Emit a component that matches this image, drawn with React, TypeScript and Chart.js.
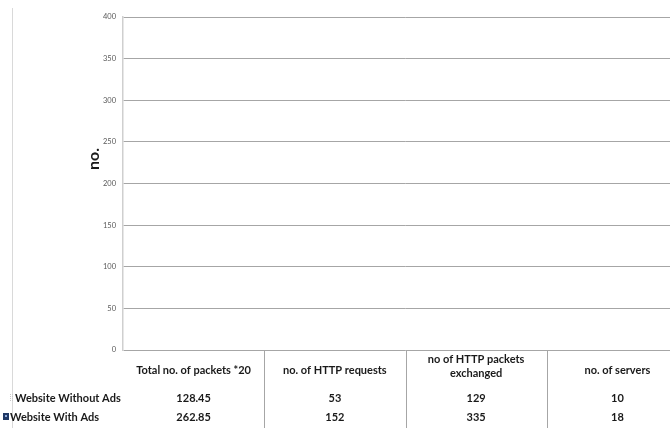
import React, { useEffect, useRef } from "react";
import { Chart, registerables } from "chart.js";

Chart.register(...registerables);

const categories: string[][] = [
  ["Total no. of packets *20"],
  ["no. of HTTP requests"],
  ["no of HTTP packets", "exchanged"],
  ["no. of servers"],
];
const seriesNames = ["Website Without Ads", "Website With Ads"];
const withoutAds = [128.45, 53, 129, 10];
const withAds = [262.85, 152, 335, 18];
const valueLabels = [
  ["128.45", "53", "129", "10"],
  ["262.85", "152", "335", "18"],
];
const yMin = 0;
const yMax = 400;
const yStep = 50;
const yTitle = "no.";

const FONT = "Lato, 'Open Sans', 'Liberation Sans', sans-serif";

const tablePlugin = {
  id: "dataTable",
  afterDraw(chart: any) {
    const ctx = chart.ctx;
    const x = chart.scales.x;
    const area = chart.chartArea;
    const n = categories.length;
    const colW = (area.right - area.left) / n;
    ctx.save();
    // outer chart border on the left
    ctx.strokeStyle = "#d9d9d9";
    ctx.lineWidth = 1;
    ctx.beginPath();
    ctx.moveTo(12.5, 8);
    ctx.lineTo(12.5, 428);
    ctx.stroke();

    // axis title
    ctx.save();
    ctx.translate(94, 159);
    ctx.rotate(-Math.PI / 2);
    ctx.fillStyle = "#1a1a1a";
    ctx.font = "bold 16px " + FONT;
    ctx.textAlign = "center";
    ctx.textBaseline = "middle";
    ctx.fillText(yTitle, 0, 0);
    ctx.restore();

    // vertical table lines
    ctx.strokeStyle = "#a6a6a6";
    ctx.lineWidth = 1;
    for (let i = 1; i < n; i++) {
      const bx = Math.round(x.getPixelForValue(i) - colW / 2) + 0.5;
      ctx.beginPath();
      ctx.moveTo(bx, area.bottom);
      ctx.lineTo(bx, 428);
      ctx.stroke();
    }

    ctx.fillStyle = "#1a1a1a";
    ctx.font = "bold 11px " + FONT;
    ctx.textAlign = "center";
    ctx.textBaseline = "middle";
    categories.forEach((lines, i) => {
      const cx = x.getPixelForValue(i);
      if (lines.length === 1) {
        ctx.fillText(lines[0], cx, 370);
      } else {
        ctx.fillText(lines[0], cx, 359);
        ctx.fillText(lines[1], cx, 373);
      }
      ctx.fillText(valueLabels[0][i], cx, 398);
      ctx.fillText(valueLabels[1][i], cx, 417);
    });

    // series labels
    ctx.textAlign = "left";
    ctx.fillText(seriesNames[0], 15, 398);
    ctx.fillText(seriesNames[1], 10, 417);

    // legend markers
    ctx.fillStyle = "#c8c8c8";
    for (let r = 0; r < 4; r++) {
      for (let c = 0; c < 2; c++) {
        ctx.fillRect(10 + c * 2, 394 + r * 2, 1, 1);
      }
    }
    ctx.fillStyle = "#1f3864";
    ctx.fillRect(3, 413, 6, 7);
    ctx.fillStyle = "#8eaadb";
    ctx.fillRect(5, 415, 2, 2);
    ctx.restore();
  },
};

export default function App() {
  const ref = useRef<HTMLCanvasElement | null>(null);
  useEffect(() => {
    document.body.style.margin = "0";
    const canvas = ref.current!;
    const chart = new Chart(canvas, {
      type: "bar",
      data: {
        labels: categories.map((c) => c.join(" ")),
        datasets: [
          { label: seriesNames[0], data: withoutAds, backgroundColor: "rgba(0,0,0,0)", borderWidth: 0 },
          { label: seriesNames[1], data: withAds, backgroundColor: "rgba(0,0,0,0)", borderWidth: 0 },
        ],
      },
      options: {
        responsive: false,
        animation: false,
        devicePixelRatio: 1,
        layout: { padding: { top: 17, bottom: 78, left: 0, right: 12 } },
        plugins: { legend: { display: false }, tooltip: { enabled: false } },
        scales: {
          x: { display: false },
          y: {
            min: yMin,
            max: yMax,
            ticks: {
              stepSize: yStep,
              padding: 7,
              color: "#595959",
              font: { size: 7.5, family: FONT },
            },
            grid: { color: "#a6a6a6", drawTicks: false, lineWidth: 1 },
            border: { color: "#cfcfcf", width: 1.5 },
            afterFit: (s: any) => {
              s.width = 123;
            },
          },
        },
      },
      plugins: [tablePlugin],
    });
    return () => chart.destroy();
  }, []);
  return (
    <div style={{ width: 670, height: 428, overflow: "hidden", position: "relative", background: "#fff" }}>
      <canvas ref={ref} width={700} height={428} style={{ display: "block" }} />
    </div>
  );
}
